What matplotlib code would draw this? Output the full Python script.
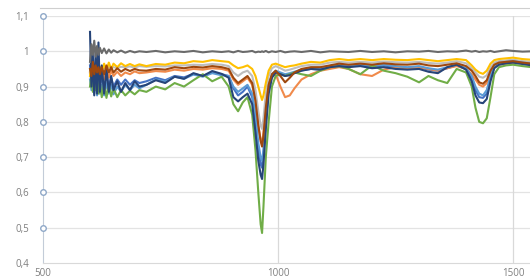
import matplotlib
matplotlib.use("Agg")
import numpy as np
from matplotlib import pyplot as plt
from matplotlib.lines import Line2D
from matplotlib.ticker import FuncFormatter

# wavelength axis shared by all series
x = [600, 603, 606, 609, 612, 615, 618, 621,
     625, 630, 635, 640, 645, 650, 658, 666, 675, 685, 695, 705,
     720, 740, 760, 780, 800, 820, 840, 860, 880,
     895, 905, 915, 925, 935, 945, 952, 958, 963, 966, 969, 974,
     980, 987, 995, 1005, 1015, 1025, 1035, 1050, 1070, 1090, 1110, 1130, 1150,
     1175, 1200, 1225, 1250, 1275, 1300, 1320, 1340, 1360, 1380, 1400,
     1412, 1420, 1428, 1436, 1444, 1452, 1460, 1470, 1485, 1500, 1520, 1540]

dark_gray = [0.97, 1.02, 0.99, 1.03, 0.985, 1.015, 0.99, 1.01,
             0.995, 1.008, 0.994, 1.005, 0.996, 1.003, 0.997, 1.002, 0.996, 1.001, 0.997, 1.0,
             0.998, 1.001, 0.997, 1.0, 0.998, 1.001, 0.997, 1.0, 0.998,
             1.0, 0.997, 1.001, 0.998, 0.999, 1.001, 0.997, 0.999, 0.998, 1.0, 0.998, 1.001,
             0.997, 1.0, 0.998, 1.001, 0.997, 0.999, 1.0, 0.998, 1.001, 0.997, 1.0, 0.999, 0.998,
             1.001, 0.998, 1.0, 0.997, 1.0, 0.999, 1.001, 0.998, 1.0, 0.999, 1.002,
             0.999, 1.001, 0.998, 1.0, 0.999, 1.001, 0.998, 1.0, 1.003, 1.001, 0.999, 1.0]

gold = [0.93, 0.96, 0.92, 0.95, 0.935, 0.96, 0.94, 0.955,
        0.94, 0.965, 0.945, 0.968, 0.95, 0.965, 0.955, 0.966, 0.958, 0.964, 0.958, 0.963,
        0.958, 0.964, 0.962, 0.968, 0.966, 0.972, 0.97, 0.975, 0.972,
        0.97, 0.96, 0.952, 0.955, 0.96, 0.95, 0.93, 0.9, 0.875, 0.862, 0.875, 0.91,
        0.945, 0.962, 0.965, 0.96, 0.955, 0.958, 0.96, 0.965, 0.97, 0.968, 0.975, 0.978, 0.975,
        0.978, 0.975, 0.978, 0.976, 0.975, 0.978, 0.975, 0.972, 0.975, 0.978, 0.975,
        0.96, 0.948, 0.94, 0.936, 0.945, 0.965, 0.975, 0.978, 0.98, 0.982, 0.978, 0.976]

brown = [0.95, 0.93, 0.97, 0.935, 0.96, 0.94, 0.955, 0.935,
         0.955, 0.935, 0.96, 0.94, 0.955, 0.94, 0.952, 0.942, 0.95, 0.944, 0.95, 0.946,
         0.945, 0.95, 0.948, 0.955, 0.952, 0.956, 0.954, 0.958, 0.955,
         0.95, 0.925, 0.91, 0.92, 0.93, 0.91, 0.86, 0.79, 0.745, 0.73, 0.76, 0.84,
         0.905, 0.935, 0.945, 0.93, 0.912, 0.925, 0.94, 0.95, 0.955, 0.955, 0.96, 0.965, 0.962,
         0.965, 0.962, 0.966, 0.963, 0.962, 0.965, 0.96, 0.958, 0.962, 0.966, 0.958,
         0.945, 0.93, 0.912, 0.908, 0.918, 0.945, 0.962, 0.968, 0.97, 0.972, 0.968, 0.965]

orange = [0.94, 0.92, 0.96, 0.93, 0.95, 0.915, 0.945, 0.925,
          0.945, 0.92, 0.95, 0.925, 0.945, 0.93, 0.942, 0.93, 0.94, 0.935, 0.943, 0.938,
          0.94, 0.944, 0.942, 0.948, 0.945, 0.95, 0.948, 0.952, 0.95,
          0.945, 0.92, 0.905, 0.915, 0.925, 0.905, 0.86, 0.79, 0.75, 0.74, 0.77, 0.85,
          0.91, 0.93, 0.935, 0.9, 0.87, 0.875, 0.895, 0.92, 0.935, 0.945, 0.95, 0.955, 0.95,
          0.935, 0.93, 0.948, 0.955, 0.952, 0.955, 0.95, 0.945, 0.952, 0.958, 0.95,
          0.935, 0.92, 0.905, 0.9, 0.91, 0.935, 0.955, 0.962, 0.965, 0.968, 0.965, 0.962]

light_gray = [0.94, 0.96, 0.93, 0.955, 0.94, 0.96, 0.945, 0.955,
              0.95, 0.955, 0.948, 0.957, 0.952, 0.955, 0.953, 0.956, 0.955, 0.957, 0.954, 0.958,
              0.956, 0.958, 0.957, 0.96, 0.96, 0.962, 0.961, 0.964, 0.962,
              0.958, 0.94, 0.93, 0.94, 0.945, 0.93, 0.89, 0.83, 0.79, 0.78, 0.81, 0.88,
              0.93, 0.952, 0.958, 0.952, 0.945, 0.948, 0.952, 0.958, 0.962, 0.962, 0.968, 0.97, 0.968,
              0.97, 0.968, 0.971, 0.969, 0.968, 0.97, 0.967, 0.965, 0.968, 0.972, 0.966,
              0.952, 0.94, 0.928, 0.925, 0.932, 0.955, 0.968, 0.972, 0.974, 0.976, 0.972, 0.97]

light_blue = [0.92, 0.89, 0.95, 0.88, 0.93, 0.875, 0.915, 0.88,
              0.905, 0.875, 0.91, 0.88, 0.905, 0.878, 0.9, 0.885, 0.905, 0.89, 0.905, 0.895,
              0.905, 0.92, 0.914, 0.928, 0.922, 0.934, 0.928, 0.938, 0.932,
              0.93, 0.9, 0.885, 0.895, 0.905, 0.88, 0.82, 0.74, 0.7, 0.69, 0.72, 0.82,
              0.9, 0.935, 0.945, 0.94, 0.935, 0.938, 0.942, 0.948, 0.952, 0.95, 0.958, 0.962, 0.96,
              0.962, 0.958, 0.962, 0.958, 0.955, 0.958, 0.952, 0.948, 0.955, 0.962, 0.952,
              0.93, 0.9, 0.88, 0.875, 0.89, 0.93, 0.958, 0.966, 0.97, 0.972, 0.968, 0.965]

blue = [0.96, 0.9, 0.98, 0.895, 0.94, 0.89, 0.96, 0.9,
        0.93, 0.89, 0.935, 0.9, 0.925, 0.9, 0.92, 0.905, 0.92, 0.905, 0.918, 0.91,
        0.915, 0.925, 0.918, 0.93, 0.926, 0.936, 0.93, 0.94, 0.935,
        0.93, 0.895, 0.875, 0.885, 0.9, 0.87, 0.8, 0.72, 0.68, 0.67, 0.71, 0.8,
        0.89, 0.93, 0.942, 0.938, 0.932, 0.935, 0.94, 0.946, 0.95, 0.948, 0.955, 0.96, 0.958,
        0.96, 0.955, 0.96, 0.955, 0.952, 0.955, 0.948, 0.945, 0.952, 0.96, 0.95,
        0.925, 0.89, 0.87, 0.868, 0.88, 0.925, 0.955, 0.963, 0.968, 0.97, 0.966, 0.963]

dark_blue = [1.055, 0.9, 0.99, 0.875, 1.0, 0.88, 1.025, 0.885,
             0.96, 0.88, 0.95, 0.885, 0.93, 0.89, 0.915, 0.885, 0.91, 0.89, 0.915, 0.9,
             0.905, 0.918, 0.91, 0.928, 0.922, 0.938, 0.93, 0.944, 0.936,
             0.925, 0.87, 0.858, 0.87, 0.88, 0.85, 0.77, 0.69, 0.65, 0.638, 0.68, 0.78,
             0.88, 0.925, 0.94, 0.935, 0.93, 0.932, 0.938, 0.945, 0.95, 0.948, 0.955, 0.958, 0.955,
             0.958, 0.952, 0.955, 0.95, 0.948, 0.95, 0.942, 0.938, 0.955, 0.962, 0.948,
             0.915, 0.875, 0.855, 0.853, 0.865, 0.915, 0.952, 0.962, 0.966, 0.968, 0.964, 0.96]

green = [0.9, 0.93, 0.885, 0.96, 0.89, 0.94, 0.88, 0.91,
         0.87, 0.91, 0.868, 0.905, 0.872, 0.895, 0.87, 0.89, 0.875, 0.888, 0.878, 0.89,
         0.885, 0.9, 0.892, 0.91, 0.9, 0.918, 0.935, 0.915, 0.928,
         0.9, 0.85, 0.83, 0.855, 0.87, 0.82, 0.72, 0.6, 0.51, 0.485, 0.56, 0.7,
         0.8, 0.9, 0.93, 0.935, 0.93, 0.935, 0.94, 0.935, 0.93, 0.945, 0.955, 0.958, 0.95,
         0.935, 0.96, 0.945, 0.938, 0.928, 0.912, 0.93, 0.918, 0.91, 0.95, 0.94,
         0.9, 0.84, 0.8, 0.796, 0.81, 0.87, 0.935, 0.955, 0.96, 0.962, 0.958, 0.955]

series = [
    (blue, '#4472C4'),
    (orange, '#F08A4B'),
    (light_gray, '#BDBDBD'),
    (gold, '#FFC000'),
    (light_blue, '#5B9BD5'),
    (green, '#70AD47'),
    (dark_blue, '#264478'),
    (brown, '#9E480E'),
    (dark_gray, '#6B6B6B'),
]

yticks = [0.4, 0.5, 0.6, 0.7, 0.8, 0.9, 1.0, 1.1]
xticks = [500, 1000, 1500]

fig = plt.figure(figsize=(5.3, 2.8), dpi=100)
ax = fig.add_axes([43 / 530, 17 / 280, 1 - 43 / 530, 247 / 280])

for vals, col in series:
    ax.plot(x, vals, color=col, lw=1.5, solid_joinstyle='round')

ax.set_xlim(500, 1536)
ax.set_ylim(0.4, 1.1)
ax.set_yticks(yticks)
ax.set_xticks(xticks)
ax.yaxis.set_major_formatter(FuncFormatter(lambda v, p: f"{v:g}".replace('.', ',')))

for y in yticks[1:]:
    ax.axhline(y, color='#e3e3e3', lw=0.9, zorder=0)
for xv in xticks[1:]:
    ax.axvline(xv, color='#d9d9d9', lw=0.9, zorder=0)

# small circle markers on the value axis
ax.plot([500] * len(yticks[1:]), yticks[1:], 'o', ms=4, mfc='white', mec='#8fa8c8',
        mew=1.0, clip_on=False, zorder=5)

for s in ['top', 'right']:
    ax.spines[s].set_visible(False)
ax.spines['left'].set_color('#c3ccd8')
ax.spines['bottom'].set_color('#d9d9d9')
ax.tick_params(length=0, labelsize=7, labelcolor='#7f7f7f')
ax.tick_params(axis='y', pad=10)
ax.tick_params(axis='x', pad=3.5)
for lab in ax.get_xticklabels() + ax.get_yticklabels():
    lab.set_family('Open Sans')

fig.add_artist(Line2D([40 / 530, 1], [1 - 8 / 280, 1 - 8 / 280], color='#cfcfcf', lw=0.8))

fig.savefig('out.png', dpi=100)
